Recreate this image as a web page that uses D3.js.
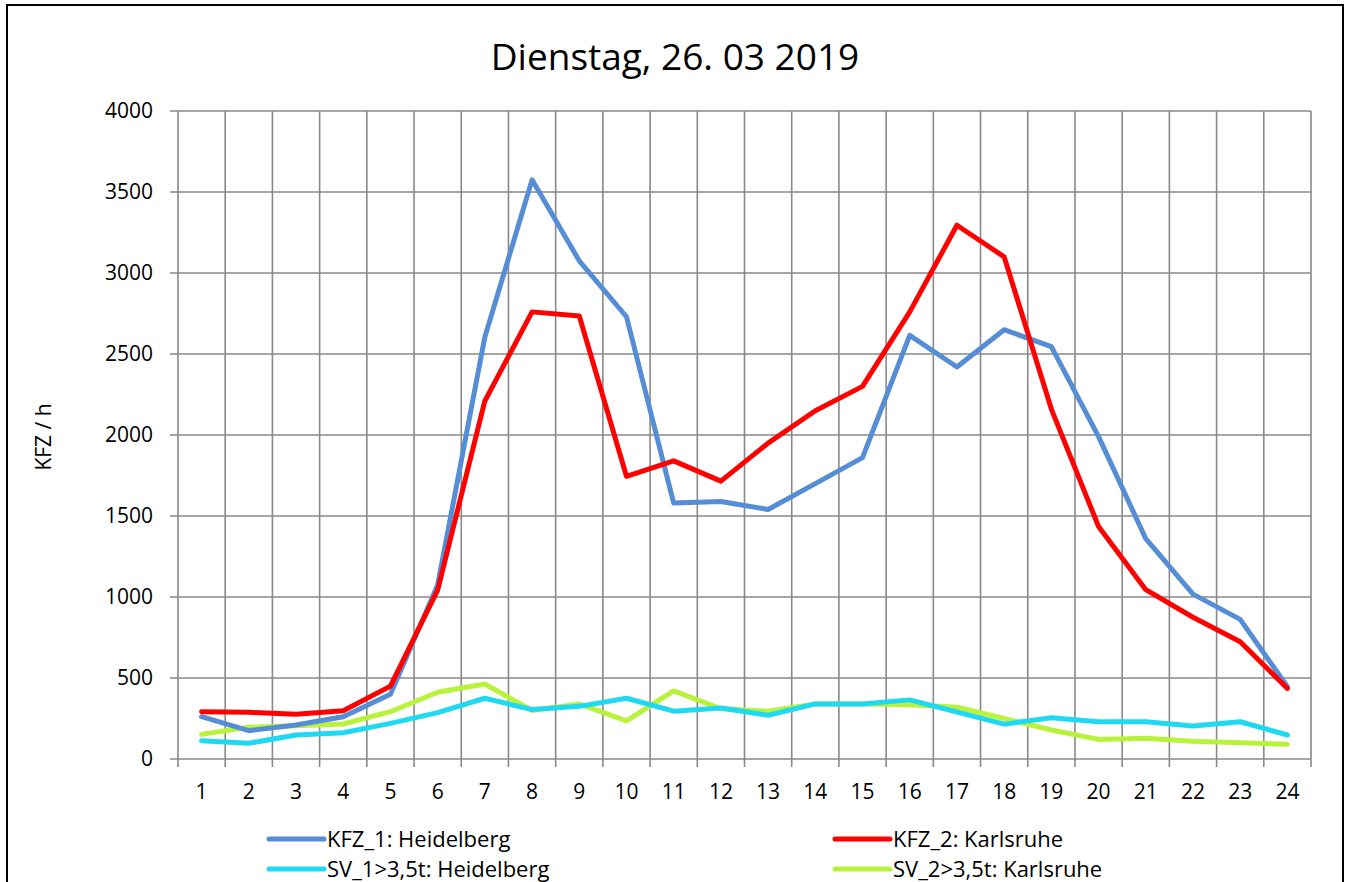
<!DOCTYPE html>
<html>
<head>
<meta charset="utf-8">
<script src="https://cdn.jsdelivr.net/npm/d3@7"></script>
<style>
  body { margin: 0; background: #fff; }
  text { font-family: "Open Sans", "Noto Sans", sans-serif; fill: #000; }
</style>
</head>
<body>
<svg id="chart" width="1350" height="882"></svg>
<script>
// hours of the day
var hours = d3.range(1, 25);

var kfz1 = [261, 175, 210, 261, 400, 1074, 2605, 3575, 3075, 2730, 1580, 1590,
            1540, 1700, 1860, 2615, 2420, 2650, 2545, 1990, 1360, 1018, 862, 446];
var kfz2 = [292, 288, 276, 298, 450, 1043, 2210, 2760, 2735, 1745, 1840, 1715,
            1950, 2150, 2300, 2760, 3295, 3100, 2160, 1435, 1045, 875, 724, 436];
var sv1 = [113, 97, 148, 162, 220, 286, 375, 305, 325, 375, 295, 315,
           270, 340, 340, 365, 290, 215, 255, 230, 230, 204, 230, 148];
var sv2 = [152, 196, 206, 216, 292, 412, 463, 300, 340, 235, 420, 310,
           295, 340, 340, 335, 320, 250, 179, 121, 128, 110, 100, 91];

var seriesNames = ["KFZ_1: Heidelberg", "KFZ_2: Karlsruhe", "SV_1>3,5t: Heidelberg", "SV_2>3,5t: Karlsruhe"];
var seriesColors = ["#558ed5", "#ff0000", "#1fd9f2", "#b9f23a"];
var yTicks = [0, 500, 1000, 1500, 2000, 2500, 3000, 3500, 4000];

var svg = d3.select("#chart");

// outer frame
svg.append("rect")
   .attr("x", 7).attr("y", 5)
   .attr("width", 1336).attr("height", 900)
   .attr("fill", "none").attr("stroke", "#000").attr("stroke-width", 2);

var plotLeft = 178, plotRight = 1311, plotTop = 111, plotBottom = 759;

var x = d3.scaleBand().domain(hours).range([plotLeft, plotRight]).padding(0);
var y = d3.scaleLinear().domain([0, 4000]).range([plotBottom, plotTop]);

var grid = svg.append("g");
// horizontal gridlines
grid.selectAll(".hg").data(yTicks).enter().append("line")
    .attr("x1", plotLeft - 8).attr("x2", plotRight)
    .attr("y1", function(d){ return y(d); }).attr("y2", function(d){ return y(d); })
    .attr("stroke", "#898989").attr("stroke-width", 1.6);
// vertical gridlines at band edges
var edges = hours.map(function(h){ return x(h); }).concat([plotRight]);
grid.selectAll(".vg").data(edges).enter().append("line")
    .attr("x1", function(d){ return d; }).attr("x2", function(d){ return d; })
    .attr("y1", plotTop).attr("y2", plotBottom + 8)
    .attr("stroke", "#898989").attr("stroke-width", 1.6);

// y tick labels
svg.append("g").selectAll("text").data(yTicks).enter().append("text")
   .attr("x", 153).attr("y", function(d){ return y(d); })
   .attr("dy", "0.35em").attr("text-anchor", "end")
   .attr("font-size", 21)
   .text(function(d){ return d; });

// x tick labels
svg.append("g").selectAll("text").data(hours).enter().append("text")
   .attr("x", function(d){ return x(d) + x.bandwidth() / 2; })
   .attr("y", 792).attr("dy", "0.35em").attr("text-anchor", "middle")
   .attr("font-size", 21)
   .text(function(d){ return d; });

// title
svg.append("text")
   .attr("x", 675).attr("y", 57).attr("dy", "0.35em")
   .attr("text-anchor", "middle").attr("font-size", 37)
   .text("Dienstag, 26. 03 2019");

// y axis title
svg.append("text")
   .attr("transform", "translate(44,437) rotate(-90)")
   .attr("text-anchor", "middle").attr("dy", "0.35em")
   .attr("font-size", 21)
   .text("KFZ / h");

var line = d3.line()
    .x(function(d, i){ return x(hours[i]) + x.bandwidth() / 2; })
    .y(function(d){ return y(d); });

var allSeries = [kfz1, kfz2, sv1, sv2];
// SV lines first, KFZ lines on top
[3, 2, 0, 1].forEach(function(k){
  svg.append("path")
     .datum(allSeries[k])
     .attr("d", line)
     .attr("fill", "none")
     .attr("stroke", seriesColors[k])
     .attr("stroke-width", 5)
     .attr("stroke-linejoin", "round")
     .attr("stroke-linecap", "round");
});

// legend
var legPos = [[269, 839], [835, 839], [269, 869], [835, 869]];
var leg = svg.append("g").selectAll("g").data(seriesNames).enter().append("g")
   .attr("transform", function(d, i){ return "translate(" + legPos[i][0] + "," + legPos[i][1] + ")"; });
leg.append("line")
   .attr("x1", 0).attr("x2", 55).attr("y1", 0).attr("y2", 0)
   .attr("stroke", function(d, i){ return seriesColors[i]; })
   .attr("stroke-width", 5).attr("stroke-linecap", "round");
leg.append("text")
   .attr("x", 58).attr("dy", "0.35em").attr("font-size", 22)
   .text(function(d){ return d; });
</script>
</body>
</html>
